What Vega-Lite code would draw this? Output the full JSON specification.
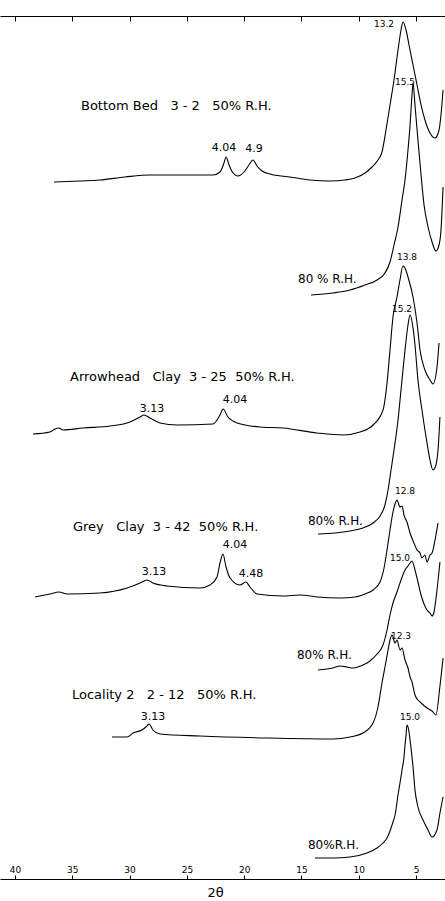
{
  "$schema": "https://vega.github.io/schema/vega-lite/v6.json",
  "width": 445,
  "height": 863,
  "autosize": {"type": "none"},
  "padding": {"top": 16, "bottom": 22, "left": 0, "right": 0},
  "background": "white",
  "config": {
    "view": {"stroke": null},
    "font": "DejaVu Sans",
    "axis": {"grid": false, "domainColor": "black", "tickColor": "black", "labelColor": "black", "titleColor": "black", "domainWidth": 1, "tickWidth": 1}
  },
  "datasets": {
    "traces": [
      {"series": "BB50", "two_theta": 36.60, "intensity": 697},
      {"series": "BB50", "two_theta": 34.33, "intensity": 698},
      {"series": "BB50", "two_theta": 32.58, "intensity": 699},
      {"series": "BB50", "two_theta": 30.40, "intensity": 702},
      {"series": "BB50", "two_theta": 28.22, "intensity": 704},
      {"series": "BB50", "two_theta": 25.60, "intensity": 704},
      {"series": "BB50", "two_theta": 22.72, "intensity": 704},
      {"series": "BB50", "two_theta": 22.11, "intensity": 707},
      {"series": "BB50", "two_theta": 21.76, "intensity": 716},
      {"series": "BB50", "two_theta": 21.58, "intensity": 722},
      {"series": "BB50", "two_theta": 21.32, "intensity": 714},
      {"series": "BB50", "two_theta": 20.97, "intensity": 706},
      {"series": "BB50", "two_theta": 20.54, "intensity": 703},
      {"series": "BB50", "two_theta": 20.01, "intensity": 707},
      {"series": "BB50", "two_theta": 19.58, "intensity": 714},
      {"series": "BB50", "two_theta": 19.23, "intensity": 719},
      {"series": "BB50", "two_theta": 18.88, "intensity": 713},
      {"series": "BB50", "two_theta": 18.44, "intensity": 708},
      {"series": "BB50", "two_theta": 17.74, "intensity": 705},
      {"series": "BB50", "two_theta": 16.00, "intensity": 702},
      {"series": "BB50", "two_theta": 14.25, "intensity": 699},
      {"series": "BB50", "two_theta": 12.51, "intensity": 698},
      {"series": "BB50", "two_theta": 11.20, "intensity": 699},
      {"series": "BB50", "two_theta": 10.32, "intensity": 701},
      {"series": "BB50", "two_theta": 9.45, "intensity": 706},
      {"series": "BB50", "two_theta": 8.84, "intensity": 712},
      {"series": "BB50", "two_theta": 8.32, "intensity": 719},
      {"series": "BB50", "two_theta": 7.97, "intensity": 727},
      {"series": "BB50", "two_theta": 7.62, "intensity": 749},
      {"series": "BB50", "two_theta": 7.27, "intensity": 774},
      {"series": "BB50", "two_theta": 6.92, "intensity": 799},
      {"series": "BB50", "two_theta": 6.57, "intensity": 829},
      {"series": "BB50", "two_theta": 6.31, "intensity": 849},
      {"series": "BB50", "two_theta": 6.14, "intensity": 857},
      {"series": "BB50", "two_theta": 5.87, "intensity": 849},
      {"series": "BB50", "two_theta": 5.61, "intensity": 834},
      {"series": "BB50", "two_theta": 5.26, "intensity": 814},
      {"series": "BB50", "two_theta": 4.91, "intensity": 794},
      {"series": "BB50", "two_theta": 4.56, "intensity": 774},
      {"series": "BB50", "two_theta": 4.22, "intensity": 759},
      {"series": "BB50", "two_theta": 3.78, "intensity": 746},
      {"series": "BB50", "two_theta": 3.34, "intensity": 741},
      {"series": "BB50", "two_theta": 2.99, "intensity": 749},
      {"series": "BB50", "two_theta": 2.82, "intensity": 764},
      {"series": "BB50", "two_theta": 2.64, "intensity": 789},

      {"series": "BB80", "two_theta": 14.17, "intensity": 584},
      {"series": "BB80", "two_theta": 12.25, "intensity": 586},
      {"series": "BB80", "two_theta": 10.76, "intensity": 589},
      {"series": "BB80", "two_theta": 9.45, "intensity": 594},
      {"series": "BB80", "two_theta": 8.40, "intensity": 599},
      {"series": "BB80", "two_theta": 7.71, "intensity": 606},
      {"series": "BB80", "two_theta": 7.27, "intensity": 617},
      {"series": "BB80", "two_theta": 6.92, "intensity": 634},
      {"series": "BB80", "two_theta": 6.57, "intensity": 652},
      {"series": "BB80", "two_theta": 6.22, "intensity": 679},
      {"series": "BB80", "two_theta": 5.96, "intensity": 699},
      {"series": "BB80", "two_theta": 5.70, "intensity": 729},
      {"series": "BB80", "two_theta": 5.52, "intensity": 754},
      {"series": "BB80", "two_theta": 5.35, "intensity": 784},
      {"series": "BB80", "two_theta": 5.26, "intensity": 796},
      {"series": "BB80", "two_theta": 5.09, "intensity": 774},
      {"series": "BB80", "two_theta": 4.83, "intensity": 739},
      {"series": "BB80", "two_theta": 4.56, "intensity": 704},
      {"series": "BB80", "two_theta": 4.30, "intensity": 674},
      {"series": "BB80", "two_theta": 3.95, "intensity": 652},
      {"series": "BB80", "two_theta": 3.60, "intensity": 637},
      {"series": "BB80", "two_theta": 3.26, "intensity": 628},
      {"series": "BB80", "two_theta": 2.99, "intensity": 634},
      {"series": "BB80", "two_theta": 2.82, "intensity": 649},
      {"series": "BB80", "two_theta": 2.64, "intensity": 692},

      {"series": "AC50", "two_theta": 38.43, "intensity": 445},
      {"series": "AC50", "two_theta": 36.95, "intensity": 447},
      {"series": "AC50", "two_theta": 36.51, "intensity": 450},
      {"series": "AC50", "two_theta": 36.16, "intensity": 451},
      {"series": "AC50", "two_theta": 35.81, "intensity": 449},
      {"series": "AC50", "two_theta": 34.07, "intensity": 451},
      {"series": "AC50", "two_theta": 31.71, "intensity": 453},
      {"series": "AC50", "two_theta": 29.96, "intensity": 457},
      {"series": "AC50", "two_theta": 29.09, "intensity": 462},
      {"series": "AC50", "two_theta": 28.74, "intensity": 464},
      {"series": "AC50", "two_theta": 28.22, "intensity": 461},
      {"series": "AC50", "two_theta": 27.34, "intensity": 456},
      {"series": "AC50", "two_theta": 25.86, "intensity": 454},
      {"series": "AC50", "two_theta": 22.72, "intensity": 455},
      {"series": "AC50", "two_theta": 22.11, "intensity": 464},
      {"series": "AC50", "two_theta": 21.85, "intensity": 470},
      {"series": "AC50", "two_theta": 21.41, "intensity": 462},
      {"series": "AC50", "two_theta": 20.62, "intensity": 456},
      {"series": "AC50", "two_theta": 18.62, "intensity": 452},
      {"series": "AC50", "two_theta": 16.61, "intensity": 451},
      {"series": "AC50", "two_theta": 13.64, "intensity": 446},
      {"series": "AC50", "two_theta": 11.37, "intensity": 444},
      {"series": "AC50", "two_theta": 9.89, "intensity": 447},
      {"series": "AC50", "two_theta": 8.75, "intensity": 454},
      {"series": "AC50", "two_theta": 7.88, "intensity": 469},
      {"series": "AC50", "two_theta": 7.53, "intensity": 496},
      {"series": "AC50", "two_theta": 7.27, "intensity": 529},
      {"series": "AC50", "two_theta": 7.01, "intensity": 562},
      {"series": "AC50", "two_theta": 6.66, "intensity": 582},
      {"series": "AC50", "two_theta": 6.40, "intensity": 599},
      {"series": "AC50", "two_theta": 6.14, "intensity": 613},
      {"series": "AC50", "two_theta": 5.96, "intensity": 611},
      {"series": "AC50", "two_theta": 5.70, "intensity": 602},
      {"series": "AC50", "two_theta": 5.26, "intensity": 582},
      {"series": "AC50", "two_theta": 4.91, "intensity": 556},
      {"series": "AC50", "two_theta": 4.65, "intensity": 529},
      {"series": "AC50", "two_theta": 4.22, "intensity": 509},
      {"series": "AC50", "two_theta": 3.78, "intensity": 499},
      {"series": "AC50", "two_theta": 3.52, "intensity": 495},
      {"series": "AC50", "two_theta": 3.17, "intensity": 512},
      {"series": "AC50", "two_theta": 2.99, "intensity": 536},

      {"series": "AC80", "two_theta": 13.55, "intensity": 345},
      {"series": "AC80", "two_theta": 12.07, "intensity": 346},
      {"series": "AC80", "two_theta": 10.76, "intensity": 348},
      {"series": "AC80", "two_theta": 9.63, "intensity": 351},
      {"series": "AC80", "two_theta": 8.75, "intensity": 356},
      {"series": "AC80", "two_theta": 8.14, "intensity": 363},
      {"series": "AC80", "two_theta": 7.71, "intensity": 374},
      {"series": "AC80", "two_theta": 7.44, "intensity": 389},
      {"series": "AC80", "two_theta": 7.18, "intensity": 409},
      {"series": "AC80", "two_theta": 6.92, "intensity": 429},
      {"series": "AC80", "two_theta": 6.57, "intensity": 459},
      {"series": "AC80", "two_theta": 6.31, "intensity": 489},
      {"series": "AC80", "two_theta": 5.96, "intensity": 529},
      {"series": "AC80", "two_theta": 5.70, "intensity": 554},
      {"series": "AC80", "two_theta": 5.52, "intensity": 564},
      {"series": "AC80", "two_theta": 5.26, "intensity": 551},
      {"series": "AC80", "two_theta": 5.09, "intensity": 534},
      {"series": "AC80", "two_theta": 4.83, "intensity": 499},
      {"series": "AC80", "two_theta": 4.48, "intensity": 469},
      {"series": "AC80", "two_theta": 4.04, "intensity": 436},
      {"series": "AC80", "two_theta": 3.78, "intensity": 419},
      {"series": "AC80", "two_theta": 3.52, "intensity": 409},
      {"series": "AC80", "two_theta": 3.26, "intensity": 414},
      {"series": "AC80", "two_theta": 3.08, "intensity": 429},
      {"series": "AC80", "two_theta": 2.91, "intensity": 462},

      {"series": "GC50", "two_theta": 38.25, "intensity": 282},
      {"series": "GC50", "two_theta": 36.95, "intensity": 285},
      {"series": "GC50", "two_theta": 36.16, "intensity": 287},
      {"series": "GC50", "two_theta": 35.46, "intensity": 285},
      {"series": "GC50", "two_theta": 32.58, "intensity": 286},
      {"series": "GC50", "two_theta": 30.22, "intensity": 291},
      {"series": "GC50", "two_theta": 29.09, "intensity": 296},
      {"series": "GC50", "two_theta": 28.48, "intensity": 299},
      {"series": "GC50", "two_theta": 27.96, "intensity": 296},
      {"series": "GC50", "two_theta": 26.73, "intensity": 293},
      {"series": "GC50", "two_theta": 23.85, "intensity": 291},
      {"series": "GC50", "two_theta": 22.98, "intensity": 294},
      {"series": "GC50", "two_theta": 22.37, "intensity": 302},
      {"series": "GC50", "two_theta": 22.11, "intensity": 316},
      {"series": "GC50", "two_theta": 21.85, "intensity": 325},
      {"series": "GC50", "two_theta": 21.58, "intensity": 312},
      {"series": "GC50", "two_theta": 21.23, "intensity": 301},
      {"series": "GC50", "two_theta": 20.36, "intensity": 294},
      {"series": "GC50", "two_theta": 19.84, "intensity": 297},
      {"series": "GC50", "two_theta": 19.49, "intensity": 292},
      {"series": "GC50", "two_theta": 18.88, "intensity": 285},
      {"series": "GC50", "two_theta": 16.61, "intensity": 283},
      {"series": "GC50", "two_theta": 15.13, "intensity": 284},
      {"series": "GC50", "two_theta": 13.64, "intensity": 282},
      {"series": "GC50", "two_theta": 11.63, "intensity": 281},
      {"series": "GC50", "two_theta": 10.32, "intensity": 282},
      {"series": "GC50", "two_theta": 9.45, "intensity": 285},
      {"series": "GC50", "two_theta": 8.75, "intensity": 289},
      {"series": "GC50", "two_theta": 8.14, "intensity": 297},
      {"series": "GC50", "two_theta": 7.79, "intensity": 311},
      {"series": "GC50", "two_theta": 7.53, "intensity": 329},
      {"series": "GC50", "two_theta": 7.27, "intensity": 349},
      {"series": "GC50", "two_theta": 7.01, "intensity": 367},
      {"series": "GC50", "two_theta": 6.83, "intensity": 375},
      {"series": "GC50", "two_theta": 6.66, "intensity": 379},
      {"series": "GC50", "two_theta": 6.40, "intensity": 372},
      {"series": "GC50", "two_theta": 6.22, "intensity": 373},
      {"series": "GC50", "two_theta": 6.05, "intensity": 364},
      {"series": "GC50", "two_theta": 5.79, "intensity": 357},
      {"series": "GC50", "two_theta": 5.52, "intensity": 346},
      {"series": "GC50", "two_theta": 5.18, "intensity": 336},
      {"series": "GC50", "two_theta": 4.91, "intensity": 329},
      {"series": "GC50", "two_theta": 4.65, "intensity": 326},
      {"series": "GC50", "two_theta": 4.48, "intensity": 321},
      {"series": "GC50", "two_theta": 4.22, "intensity": 324},
      {"series": "GC50", "two_theta": 4.04, "intensity": 317},
      {"series": "GC50", "two_theta": 3.78, "intensity": 324},
      {"series": "GC50", "two_theta": 3.60, "intensity": 326},
      {"series": "GC50", "two_theta": 3.34, "intensity": 339},
      {"series": "GC50", "two_theta": 3.08, "intensity": 356},

      {"series": "GC80", "two_theta": 13.55, "intensity": 209},
      {"series": "GC80", "two_theta": 12.25, "intensity": 211},
      {"series": "GC80", "two_theta": 11.63, "intensity": 213},
      {"series": "GC80", "two_theta": 11.02, "intensity": 212},
      {"series": "GC80", "two_theta": 10.50, "intensity": 211},
      {"series": "GC80", "two_theta": 9.63, "intensity": 214},
      {"series": "GC80", "two_theta": 9.02, "intensity": 218},
      {"series": "GC80", "two_theta": 8.40, "intensity": 225},
      {"series": "GC80", "two_theta": 7.88, "intensity": 234},
      {"series": "GC80", "two_theta": 7.53, "intensity": 249},
      {"series": "GC80", "two_theta": 7.27, "intensity": 264},
      {"series": "GC80", "two_theta": 7.01, "intensity": 276},
      {"series": "GC80", "two_theta": 6.66, "intensity": 287},
      {"series": "GC80", "two_theta": 6.31, "intensity": 299},
      {"series": "GC80", "two_theta": 5.96, "intensity": 309},
      {"series": "GC80", "two_theta": 5.70, "intensity": 313},
      {"series": "GC80", "two_theta": 5.52, "intensity": 316},
      {"series": "GC80", "two_theta": 5.35, "intensity": 318},
      {"series": "GC80", "two_theta": 5.09, "intensity": 309},
      {"series": "GC80", "two_theta": 4.83, "intensity": 297},
      {"series": "GC80", "two_theta": 4.56, "intensity": 284},
      {"series": "GC80", "two_theta": 4.30, "intensity": 275},
      {"series": "GC80", "two_theta": 4.04, "intensity": 269},
      {"series": "GC80", "two_theta": 3.78, "intensity": 266},
      {"series": "GC80", "two_theta": 3.60, "intensity": 263},
      {"series": "GC80", "two_theta": 3.43, "intensity": 267},
      {"series": "GC80", "two_theta": 3.17, "intensity": 289},
      {"series": "GC80", "two_theta": 2.91, "intensity": 317},

      {"series": "L250", "two_theta": 31.53, "intensity": 142},
      {"series": "L250", "two_theta": 30.22, "intensity": 142},
      {"series": "L250", "two_theta": 29.70, "intensity": 146},
      {"series": "L250", "two_theta": 28.92, "intensity": 149},
      {"series": "L250", "two_theta": 28.48, "intensity": 153},
      {"series": "L250", "two_theta": 28.30, "intensity": 155},
      {"series": "L250", "two_theta": 27.96, "intensity": 149},
      {"series": "L250", "two_theta": 27.34, "intensity": 145},
      {"series": "L250", "two_theta": 23.85, "intensity": 143},
      {"series": "L250", "two_theta": 18.01, "intensity": 141},
      {"series": "L250", "two_theta": 12.25, "intensity": 140},
      {"series": "L250", "two_theta": 10.76, "intensity": 142},
      {"series": "L250", "two_theta": 9.63, "intensity": 146},
      {"series": "L250", "two_theta": 8.75, "intensity": 156},
      {"series": "L250", "two_theta": 8.32, "intensity": 172},
      {"series": "L250", "two_theta": 7.97, "intensity": 196},
      {"series": "L250", "two_theta": 7.71, "intensity": 212},
      {"series": "L250", "two_theta": 7.44, "intensity": 229},
      {"series": "L250", "two_theta": 7.27, "intensity": 239},
      {"series": "L250", "two_theta": 7.10, "intensity": 244},
      {"series": "L250", "two_theta": 6.83, "intensity": 236},
      {"series": "L250", "two_theta": 6.66, "intensity": 239},
      {"series": "L250", "two_theta": 6.40, "intensity": 229},
      {"series": "L250", "two_theta": 6.22, "intensity": 231},
      {"series": "L250", "two_theta": 5.96, "intensity": 219},
      {"series": "L250", "two_theta": 5.70, "intensity": 211},
      {"series": "L250", "two_theta": 5.52, "intensity": 202},
      {"series": "L250", "two_theta": 5.35, "intensity": 197},
      {"series": "L250", "two_theta": 5.09, "intensity": 184},
      {"series": "L250", "two_theta": 4.83, "intensity": 179},
      {"series": "L250", "two_theta": 4.65, "intensity": 177},
      {"series": "L250", "two_theta": 4.04, "intensity": 171},
      {"series": "L250", "two_theta": 3.60, "intensity": 168},
      {"series": "L250", "two_theta": 3.26, "intensity": 164},
      {"series": "L250", "two_theta": 2.91, "intensity": 193},
      {"series": "L250", "two_theta": 2.64, "intensity": 221},

      {"series": "L280", "two_theta": 13.82, "intensity": 21},
      {"series": "L280", "two_theta": 12.25, "intensity": 21},
      {"series": "L280", "two_theta": 10.76, "intensity": 22},
      {"series": "L280", "two_theta": 9.28, "intensity": 26},
      {"series": "L280", "two_theta": 8.40, "intensity": 31},
      {"series": "L280", "two_theta": 7.88, "intensity": 36},
      {"series": "L280", "two_theta": 7.53, "intensity": 41},
      {"series": "L280", "two_theta": 7.27, "intensity": 48},
      {"series": "L280", "two_theta": 7.01, "intensity": 57},
      {"series": "L280", "two_theta": 6.83, "intensity": 64},
      {"series": "L280", "two_theta": 6.57, "intensity": 84},
      {"series": "L280", "two_theta": 6.40, "intensity": 96},
      {"series": "L280", "two_theta": 6.22, "intensity": 109},
      {"series": "L280", "two_theta": 6.05, "intensity": 122},
      {"series": "L280", "two_theta": 5.96, "intensity": 134},
      {"series": "L280", "two_theta": 5.87, "intensity": 144},
      {"series": "L280", "two_theta": 5.79, "intensity": 154},
      {"series": "L280", "two_theta": 5.61, "intensity": 147},
      {"series": "L280", "two_theta": 5.52, "intensity": 139},
      {"series": "L280", "two_theta": 5.26, "intensity": 112},
      {"series": "L280", "two_theta": 5.09, "intensity": 89},
      {"series": "L280", "two_theta": 4.83, "intensity": 72},
      {"series": "L280", "two_theta": 4.39, "intensity": 59},
      {"series": "L280", "two_theta": 3.95, "intensity": 49},
      {"series": "L280", "two_theta": 3.60, "intensity": 42},
      {"series": "L280", "two_theta": 3.17, "intensity": 49},
      {"series": "L280", "two_theta": 2.91, "intensity": 66},
      {"series": "L280", "two_theta": 2.64, "intensity": 82}
    ],
    "labels": [
      {"kind": "title", "text": "Bottom Bed\u00a0\u00a0\u00a03\u00a0-\u00a02\u00a0\u00a0\u00a050% R.H.", "two_theta": 34.24, "intensity": 773},
      {"kind": "title", "text": "Arrowhead\u00a0\u00a0\u00a0Clay\u00a0\u00a03\u00a0-\u00a025\u00a0\u00a050% R.H.", "two_theta": 35.20, "intensity": 502},
      {"kind": "title", "text": "Grey\u00a0\u00a0\u00a0Clay\u00a0\u00a03\u00a0-\u00a042\u00a0\u00a050% R.H.", "two_theta": 34.94, "intensity": 352},
      {"kind": "title", "text": "Locality\u00a02\u00a0\u00a0\u00a02\u00a0-\u00a012\u00a0\u00a0\u00a050% R.H.", "two_theta": 35.03, "intensity": 184},
      {"kind": "rh", "text": "80\u00a0% R.H.", "two_theta": 15.30, "intensity": 600},
      {"kind": "rh", "text": "80% R.H.", "two_theta": 14.43, "intensity": 358},
      {"kind": "rh", "text": "80% R.H.", "two_theta": 15.39, "intensity": 224},
      {"kind": "rh", "text": "80%R.H.", "two_theta": 14.43, "intensity": 34},
      {"kind": "small", "text": "13.2", "two_theta": 7.79, "intensity": 855},
      {"kind": "small", "text": "15.5", "two_theta": 5.96, "intensity": 797},
      {"kind": "big", "text": "4.04", "two_theta": 21.76, "intensity": 731},
      {"kind": "big", "text": "4.9", "two_theta": 19.14, "intensity": 730},
      {"kind": "small", "text": "13.8", "two_theta": 5.79, "intensity": 622},
      {"kind": "small", "text": "15.2", "two_theta": 6.22, "intensity": 570},
      {"kind": "big", "text": "3.13", "two_theta": 28.04, "intensity": 470},
      {"kind": "big", "text": "4.04", "two_theta": 20.80, "intensity": 479},
      {"kind": "small", "text": "12.8", "two_theta": 5.96, "intensity": 388},
      {"kind": "big", "text": "4.04", "two_theta": 20.80, "intensity": 334},
      {"kind": "big", "text": "3.13", "two_theta": 27.87, "intensity": 307},
      {"kind": "big", "text": "4.48", "two_theta": 19.40, "intensity": 305},
      {"kind": "small", "text": "15.0", "two_theta": 6.40, "intensity": 321},
      {"kind": "small", "text": "12.3", "two_theta": 6.31, "intensity": 243},
      {"kind": "big", "text": "3.13", "two_theta": 27.96, "intensity": 162},
      {"kind": "small", "text": "15.0", "two_theta": 5.52, "intensity": 162}
    ]
  },
  "resolve": {"axis": {"x": "independent"}},
  "layer": [
    {
      "data": {"name": "traces"},
      "mark": {"type": "line", "color": "black", "strokeWidth": 1.1, "interpolate": "monotone"},
      "encoding": {
        "x": {
          "field": "two_theta", "type": "quantitative",
          "scale": {"domain": [2.47, 41.31], "reverse": true, "nice": false, "zero": false},
          "axis": {
            "orient": "bottom", "values": [40, 35, 30, 25, 20, 15, 10, 5],
            "tickSize": -4, "labelPadding": -3, "labelBaseline": "alphabetic",
            "labelFontSize": 9, "labelFont": "DejaVu Sans",
            "title": "2θ", "titleFontSize": 13, "titleFontWeight": "normal", "titleFont": "DejaVu Sans",
            "titleX": 215, "titleY": 13, "titleBaseline": "middle"
          }
        },
        "y": {
          "field": "intensity", "type": "quantitative",
          "scale": {"domain": [0, 863], "nice": false, "zero": false},
          "axis": null
        },
        "detail": {"field": "series"}
      }
    },
    {
      "data": {"name": "labels"},
      "transform": [{"filter": "datum.kind === 'title'"}],
      "mark": {"type": "text", "align": "left", "baseline": "middle", "fontSize": 13, "color": "black"},
      "encoding": {
        "x": {
          "field": "two_theta", "type": "quantitative",
          "axis": {"orient": "top", "values": [40, 35, 30, 25, 20, 15, 10, 5], "labels": false, "tickSize": -5, "title": null}
        },
        "y": {"field": "intensity", "type": "quantitative"},
        "text": {"field": "text"}
      }
    },
    {
      "data": {"name": "labels"},
      "transform": [{"filter": "datum.kind === 'rh'"}],
      "mark": {"type": "text", "align": "left", "baseline": "middle", "fontSize": 12, "color": "black"},
      "encoding": {
        "x": {"field": "two_theta", "type": "quantitative", "axis": null},
        "y": {"field": "intensity", "type": "quantitative"},
        "text": {"field": "text"}
      }
    },
    {
      "data": {"name": "labels"},
      "transform": [{"filter": "datum.kind === 'big'"}],
      "mark": {"type": "text", "align": "center", "baseline": "middle", "fontSize": 11, "color": "black"},
      "encoding": {
        "x": {"field": "two_theta", "type": "quantitative", "axis": null},
        "y": {"field": "intensity", "type": "quantitative"},
        "text": {"field": "text"}
      }
    },
    {
      "data": {"name": "labels"},
      "transform": [{"filter": "datum.kind === 'small'"}],
      "mark": {"type": "text", "align": "center", "baseline": "middle", "fontSize": 9, "color": "black"},
      "encoding": {
        "x": {"field": "two_theta", "type": "quantitative", "axis": null},
        "y": {"field": "intensity", "type": "quantitative"},
        "text": {"field": "text"}
      }
    }
  ]
}
